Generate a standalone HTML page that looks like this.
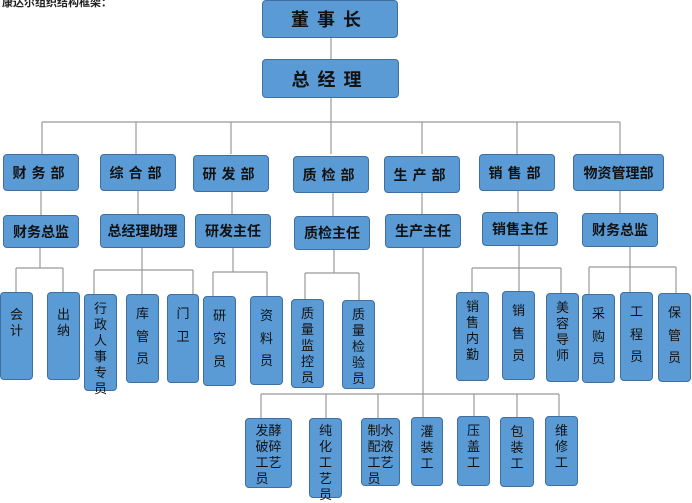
<!DOCTYPE html>
<html><head><meta charset="utf-8"><style>
body{margin:0;width:692px;height:500px;background:#fff;position:relative;overflow:hidden;font-family:"Liberation Sans","Noto Sans CJK SC",sans-serif;}
.b{position:absolute;background:#5b9bd5;border:1px solid #3f6f9e;border-radius:4px;box-sizing:border-box;display:flex;align-items:center;justify-content:center;color:#111;font-weight:bold;font-size:14px;}
.v{flex-direction:column;font-size:13px;font-weight:normal;line-height:16px;padding:6px 0;justify-content:flex-start;}
.s{justify-content:space-evenly;padding:4px 0 8px;}
svg{position:absolute;left:0;top:0}
</style></head><body>
<div style="position:absolute;left:2px;top:-6px;font-size:11px;font-weight:bold;color:#222">康达尔组织结构框架：</div>
<svg width="692" height="500"><g stroke="#999" stroke-width="1.2" fill="none">
<path d="M331 38V59M331 98V122M42 122H620M42 122V154M136 122V154M231 122V154M331 122V154M422 122V154M517 122V154M620 122V154"/>
<path d="M41 191V215M138 191V214M232 191V214M333 191V216M422 193V214M518 191V212M620 191V213"/>
<path d="M40 248V268M16 268H63M16 268V292M63 268V292"/>
<path d="M142 248V294M94 270H193M94 270V294M193 270V294"/>
<path d="M233 248V272M213 272H267M213 272V296M267 272V296"/>
<path d="M334 250V273M305 273H359M305 273V299M359 273V300"/>
<path d="M519 246V291M472 268H561M472 268V292M561 268V293"/>
<path d="M630 247V292M589 267H676M589 267V294M676 267V293"/>
<path d="M423 248V417M261 394H559M261 394V418M326 394V418M378 394V418M474 394V416M517 394V417M559 394V416"/>
</g></svg>
<div class="b" style="left:262px;top:0;width:136px;height:38px;font-size:18px;letter-spacing:8px">董事长</div>
<div class="b" style="left:262px;top:59px;width:137px;height:39px;font-size:18px;letter-spacing:8px">总经理</div>
<div class="b" style="left:3px;top:154px;width:76px;height:37px;letter-spacing:5px">财务部</div>
<div class="b" style="left:100px;top:154px;width:76px;height:37px;letter-spacing:5px">综合部</div>
<div class="b" style="left:193px;top:155px;width:76px;height:37px;letter-spacing:5px">研发部</div>
<div class="b" style="left:293px;top:156px;width:76px;height:37px;letter-spacing:5px">质检部</div>
<div class="b" style="left:384px;top:156px;width:76px;height:37px;letter-spacing:5px">生产部</div>
<div class="b" style="left:479px;top:154px;width:76px;height:37px;letter-spacing:5px">销售部</div>
<div class="b" style="left:573px;top:154px;width:91px;height:37px">物资管理部</div>
<div class="b" style="left:3px;top:215px;width:76px;height:33px">财务总监</div>
<div class="b" style="left:100px;top:214px;width:85px;height:34px">总经理助理</div>
<div class="b" style="left:195px;top:214px;width:76px;height:34px">研发主任</div>
<div class="b" style="left:294px;top:216px;width:76px;height:34px">质检主任</div>
<div class="b" style="left:385px;top:214px;width:76px;height:34px">生产主任</div>
<div class="b" style="left:482px;top:212px;width:76px;height:34px">销售主任</div>
<div class="b" style="left:582px;top:213px;width:76px;height:34px">财务总监</div>
<div class="b v s" style="left:0;top:292px;width:33px;height:88px;padding-bottom:30px">会<br>计</div>
<div class="b v s" style="left:47px;top:292px;width:33px;height:88px;padding-bottom:30px">出<br>纳</div>
<div class="b v" style="left:84px;top:294px;width:33px;height:97px"><span>行</span><span>政</span><span>人</span><span>事</span><span>专</span><span>员</span></div>
<div class="b v s" style="left:126px;top:294px;width:33px;height:89px"><span>库</span><span>管</span><span>员</span></div>
<div class="b v s" style="left:167px;top:294px;width:32px;height:89px;padding-bottom:30px"><span>门</span><span>卫</span></div>
<div class="b v s" style="left:203px;top:296px;width:33px;height:90px"><span>研</span><span>究</span><span>员</span></div>
<div class="b v s" style="left:250px;top:296px;width:33px;height:89px"><span>资</span><span>料</span><span>员</span></div>
<div class="b v" style="left:291px;top:299px;width:33px;height:89px"><span>质</span><span>量</span><span>监</span><span>控</span><span>员</span></div>
<div class="b v" style="left:342px;top:300px;width:33px;height:89px"><span>质</span><span>量</span><span>检</span><span>验</span><span>员</span></div>
<div class="b v" style="left:456px;top:292px;width:33px;height:89px"><span>销</span><span>售</span><span>内</span><span>勤</span></div>
<div class="b v s" style="left:502px;top:291px;width:33px;height:89px"><span>销</span><span>售</span><span>员</span></div>
<div class="b v" style="left:546px;top:293px;width:33px;height:89px"><span>美</span><span>容</span><span>导</span><span>师</span></div>
<div class="b v s" style="left:582px;top:294px;width:33px;height:89px"><span>采</span><span>购</span><span>员</span></div>
<div class="b v s" style="left:620px;top:292px;width:33px;height:89px"><span>工</span><span>程</span><span>员</span></div>
<div class="b v s" style="left:658px;top:293px;width:33px;height:89px"><span>保</span><span>管</span><span>员</span></div>
<div class="b v" style="left:245px;top:418px;width:47px;height:70px;padding-top:4px">发酵<br>破碎<br>工艺<br>员</div>
<div class="b v" style="left:309px;top:418px;width:33px;height:80px;padding-top:4px"><span>纯</span><span>化</span><span>工</span><span>艺</span><span>员</span></div>
<div class="b v" style="left:361px;top:418px;width:39px;height:68px;padding-top:4px">制水<br>配液<br>工艺<br>员</div>
<div class="b v" style="left:411px;top:417px;width:32px;height:69px"><span>灌</span><span>装</span><span>工</span></div>
<div class="b v" style="left:457px;top:416px;width:33px;height:70px"><span>压</span><span>盖</span><span>工</span></div>
<div class="b v" style="left:500px;top:417px;width:34px;height:70px"><span>包</span><span>装</span><span>工</span></div>
<div class="b v" style="left:545px;top:416px;width:33px;height:70px"><span>维</span><span>修</span><span>工</span></div>
</body></html>
